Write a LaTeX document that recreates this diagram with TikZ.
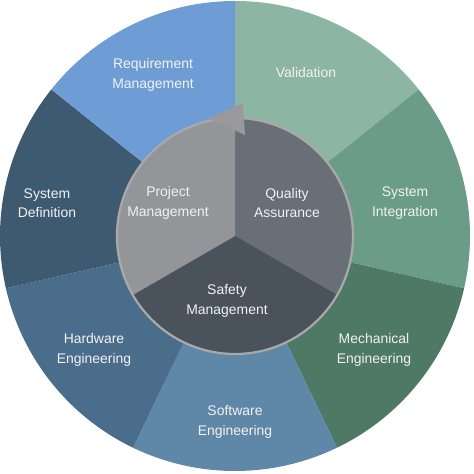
\documentclass[tikz,border=0pt]{standalone}
\usepackage{fontspec}
\setmainfont{Liberation Sans}
\definecolor{creq}{HTML}{6E9DD6}
\definecolor{cval}{HTML}{8CB5A3}
\definecolor{csint}{HTML}{6A9C87}
\definecolor{cmech}{HTML}{4E7A65}
\definecolor{csoft}{HTML}{5F87A7}
\definecolor{chard}{HTML}{4A6D8C}
\definecolor{csdef}{HTML}{3E5A71}
\definecolor{cproj}{HTML}{939598}
\definecolor{cqual}{HTML}{696F77}
\definecolor{csafe}{HTML}{4A525B}
\definecolor{cring}{HTML}{A9A9AA}
\definecolor{carrow}{HTML}{9A9A9C}
\definecolor{ctext}{HTML}{F2F2F2}
\begin{document}
\begin{tikzpicture}[x=1bp,y=1bp,
  lbl/.style={text=ctext,align=center,font=\fontsize{14}{19.5}\selectfont,inner sep=0pt}]
\useasboundingbox (-235,-238) rectangle (239,236);
\def\R{235}
\def\r{118}
\pgfmathsetmacro{\s}{360/7}
% outer segments
\foreach \i/\c in {0/cval,1/csint,2/cmech,3/csoft,4/chard,5/csdef,6/creq}{
  \pgfmathsetmacro{\a}{90-\i*\s}
  \pgfmathsetmacro{\b}{90-(\i+1)*\s}
  \fill[\c] (0,0) -- (\a:\R) arc[start angle=\a,end angle=\b,radius=\R] -- cycle;
}
% inner segments
\fill[cqual] (0,0) -- (90:\r) arc[start angle=90,end angle=-30,radius=\r] -- cycle;
\fill[csafe] (0,0) -- (-30:\r) arc[start angle=-30,end angle=-150,radius=\r] -- cycle;
\fill[cproj] (0,0) -- (210:\r) arc[start angle=210,end angle=90,radius=\r] -- cycle;
\draw[cring,line width=2.2bp] (0,0) circle[radius=\r];
% arrow head
\fill[carrow] (-26,118) -- (8,133) -- (10,101) -- cycle;
% labels
\node[lbl] (req) at (-82,161) {Requirement\\Management};
\node[lbl] (val) at (71,163) {Validation};
\node[lbl] (sdef) at (-188,33) {System\\Definition};
\node[lbl] (sint) at (170,33) {System\\Integration};
\node[lbl] (hard) at (-141,-114) {Hardware\\Engineering};
\node[lbl] (mech) at (139,-114) {Mechanical\\Engineering};
\node[lbl] (soft) at (0,-186) {Software\\Engineering};
\node[lbl] (proj) at (-67,33) {Project\\Management};
\node[lbl] (qual) at (52,33) {Quality\\Assurance};
\node[lbl] (safe) at (-8,-65) {Safety\\Management};
\end{tikzpicture}
\end{document}
